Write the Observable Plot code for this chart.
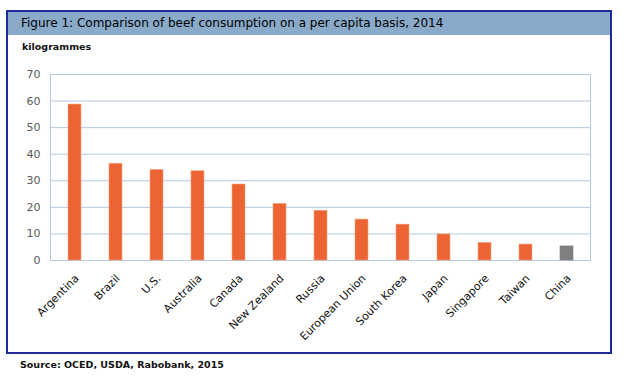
<!DOCTYPE html>
<html><head><meta charset="utf-8">
<script src="https://cdn.jsdelivr.net/npm/d3@7"></script>
<script src="https://cdn.jsdelivr.net/npm/@observablehq/plot@0.6"></script>
<style>
html,body{margin:0;padding:0;background:#fff;width:628px;height:376px;overflow:hidden;font-family:"DejaVu Sans",Verdana,sans-serif;}
#box{position:absolute;left:6px;top:10px;width:602px;height:340px;border:2px solid #1c2c9c;}
#head{position:absolute;left:0;top:0;width:602px;height:23px;background:#8aaaca;}
#title{position:absolute;left:13px;top:4px;font-size:12px;color:#000;white-space:nowrap;}
#unit{position:absolute;left:14px;top:29px;font-size:9.5px;font-weight:bold;color:#111;}
#chart{position:absolute;left:0;top:60px;}
#source{position:absolute;left:20px;top:359px;font-size:9.5px;font-weight:bold;color:#111;white-space:nowrap;}
</style></head>
<body>
<div id="box"><div id="head"><div id="title">Figure 1: Comparison of beef consumption on a per capita basis, 2014</div></div>
<div id="unit">kilogrammes</div></div>
<div id="chart"></div>
<div id="source">Source: OCED, USDA, Rabobank, 2015</div>
<script>
const countries = ["Argentina","Brazil","U.S.","Australia","Canada","New Zealand","Russia","European Union","South Korea","Japan","Singapore","Taiwan","China"];
const values = [58.7, 36.4, 34.1, 33.6, 28.6, 21.3, 18.7, 15.4, 13.5, 9.8, 6.6, 6.0, 5.3];
const yTicks = [0,10,20,30,40,50,60,70];
const highlight = "China";

const data = countries.map((c,i)=>({country:c, value:values[i]}));

const plot = Plot.plot({
  width: 628, height: 290,
  marginLeft: 50, marginRight: 38, marginTop: 14, marginBottom: 90,
  style: {fontFamily: '"DejaVu Sans", Verdana, sans-serif', background: "transparent"},
  x: {domain: countries, paddingInner: 0.69, paddingOuter: 0.345, axis: null},
  y: {domain: [0,70], ticks: yTicks, axis: null},
  marks: [
    Plot.gridY(yTicks, {stroke: "#b4c8e2", strokeOpacity: 1, strokeWidth: 1}),
    Plot.frame({stroke: "#b4c8e2", strokeWidth: 1}),
    Plot.barY(data, {x: "country", y: "value",
      fill: d => d.country === highlight ? "#808080" : "#ec6434",
      stroke: d => d.country === highlight ? "#808080" : "#f3a37e", strokeWidth: 0.6}),
    Plot.axisY({ticks: yTicks, tickSize: 0, tickPadding: 10, fontSize: 11, color: "#595959", tickFormat: d => d, label: null}),
    Plot.text(data, {x: "country", y: () => 0, text: "country", rotate: -45, textAnchor: "end",
      dx: 2, dy: 16, fontSize: 11, fill: "#111"})
  ]
});
document.getElementById("chart").appendChild(plot);
</script>
</body></html>
